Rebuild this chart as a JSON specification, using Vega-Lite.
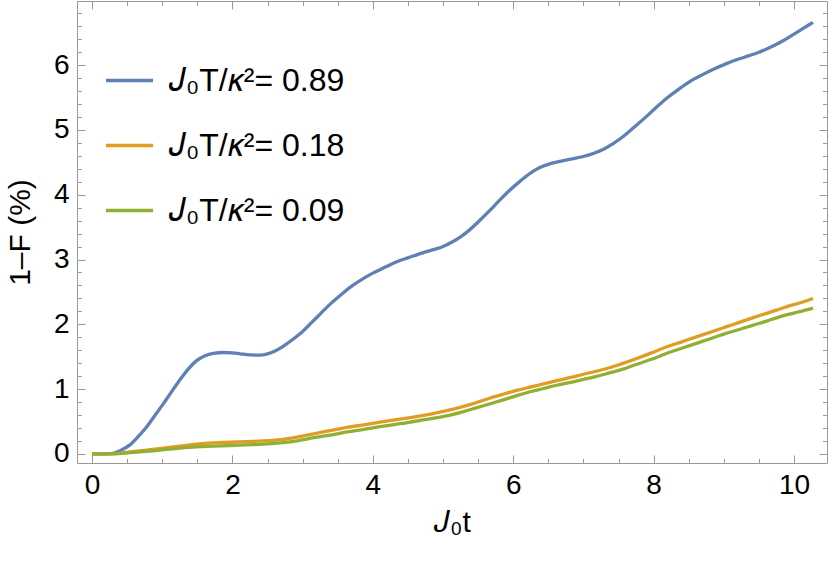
{
  "$schema": "https://vega.github.io/schema/vega-lite/v6.json",
  "width": 750,
  "height": 462,
  "autosize": {"type": "none"},
  "padding": {"left": 77, "top": 1, "right": 3, "bottom": 99},
  "background": "white",
  "config": {
    "view": {"stroke": null},
    "font": "Liberation Sans",
    "axis": {"grid": false, "labelFont": "Liberation Sans", "titleFont": "Liberation Sans", "labelColor": "black", "titleColor": "black", "domainColor": "#999999", "tickColor": "#999999", "labelFlush": false, "labelOverlap": false, "titleFontWeight": "normal"}
  },
  "datasets": {
    "curves": [
      {"t": 0, "f": 0, "s": "𝐽₀T/𝜅²= 0.89"},
      {"t": 0.2, "f": 0.003, "s": "𝐽₀T/𝜅²= 0.89"},
      {"t": 0.3, "f": 0.01, "s": "𝐽₀T/𝜅²= 0.89"},
      {"t": 0.4, "f": 0.05, "s": "𝐽₀T/𝜅²= 0.89"},
      {"t": 0.54, "f": 0.14, "s": "𝐽₀T/𝜅²= 0.89"},
      {"t": 0.66, "f": 0.27, "s": "𝐽₀T/𝜅²= 0.89"},
      {"t": 0.78, "f": 0.42, "s": "𝐽₀T/𝜅²= 0.89"},
      {"t": 0.9, "f": 0.6, "s": "𝐽₀T/𝜅²= 0.89"},
      {"t": 1.02, "f": 0.78, "s": "𝐽₀T/𝜅²= 0.89"},
      {"t": 1.14, "f": 0.97, "s": "𝐽₀T/𝜅²= 0.89"},
      {"t": 1.25, "f": 1.14, "s": "𝐽₀T/𝜅²= 0.89"},
      {"t": 1.37, "f": 1.31, "s": "𝐽₀T/𝜅²= 0.89"},
      {"t": 1.49, "f": 1.44, "s": "𝐽₀T/𝜅²= 0.89"},
      {"t": 1.61, "f": 1.515, "s": "𝐽₀T/𝜅²= 0.89"},
      {"t": 1.73, "f": 1.552, "s": "𝐽₀T/𝜅²= 0.89"},
      {"t": 1.87, "f": 1.565, "s": "𝐽₀T/𝜅²= 0.89"},
      {"t": 2.0, "f": 1.56, "s": "𝐽₀T/𝜅²= 0.89"},
      {"t": 2.11, "f": 1.545, "s": "𝐽₀T/𝜅²= 0.89"},
      {"t": 2.25, "f": 1.528, "s": "𝐽₀T/𝜅²= 0.89"},
      {"t": 2.39, "f": 1.525, "s": "𝐽₀T/𝜅²= 0.89"},
      {"t": 2.5, "f": 1.545, "s": "𝐽₀T/𝜅²= 0.89"},
      {"t": 2.6, "f": 1.585, "s": "𝐽₀T/𝜅²= 0.89"},
      {"t": 2.7, "f": 1.645, "s": "𝐽₀T/𝜅²= 0.89"},
      {"t": 2.8, "f": 1.72, "s": "𝐽₀T/𝜅²= 0.89"},
      {"t": 2.9, "f": 1.8, "s": "𝐽₀T/𝜅²= 0.89"},
      {"t": 3.0, "f": 1.89, "s": "𝐽₀T/𝜅²= 0.89"},
      {"t": 3.13, "f": 2.03, "s": "𝐽₀T/𝜅²= 0.89"},
      {"t": 3.26, "f": 2.17, "s": "𝐽₀T/𝜅²= 0.89"},
      {"t": 3.4, "f": 2.32, "s": "𝐽₀T/𝜅²= 0.89"},
      {"t": 3.55, "f": 2.46, "s": "𝐽₀T/𝜅²= 0.89"},
      {"t": 3.7, "f": 2.59, "s": "𝐽₀T/𝜅²= 0.89"},
      {"t": 3.84, "f": 2.69, "s": "𝐽₀T/𝜅²= 0.89"},
      {"t": 4.0, "f": 2.79, "s": "𝐽₀T/𝜅²= 0.89"},
      {"t": 4.17, "f": 2.88, "s": "𝐽₀T/𝜅²= 0.89"},
      {"t": 4.35, "f": 2.97, "s": "𝐽₀T/𝜅²= 0.89"},
      {"t": 4.51, "f": 3.03, "s": "𝐽₀T/𝜅²= 0.89"},
      {"t": 4.7, "f": 3.1, "s": "𝐽₀T/𝜅²= 0.89"},
      {"t": 4.89, "f": 3.16, "s": "𝐽₀T/𝜅²= 0.89"},
      {"t": 5.0, "f": 3.2, "s": "𝐽₀T/𝜅²= 0.89"},
      {"t": 5.13, "f": 3.27, "s": "𝐽₀T/𝜅²= 0.89"},
      {"t": 5.25, "f": 3.35, "s": "𝐽₀T/𝜅²= 0.89"},
      {"t": 5.37, "f": 3.45, "s": "𝐽₀T/𝜅²= 0.89"},
      {"t": 5.5, "f": 3.58, "s": "𝐽₀T/𝜅²= 0.89"},
      {"t": 5.66, "f": 3.75, "s": "𝐽₀T/𝜅²= 0.89"},
      {"t": 5.8, "f": 3.91, "s": "𝐽₀T/𝜅²= 0.89"},
      {"t": 5.95, "f": 4.07, "s": "𝐽₀T/𝜅²= 0.89"},
      {"t": 6.1, "f": 4.21, "s": "𝐽₀T/𝜅²= 0.89"},
      {"t": 6.24, "f": 4.33, "s": "𝐽₀T/𝜅²= 0.89"},
      {"t": 6.38, "f": 4.42, "s": "𝐽₀T/𝜅²= 0.89"},
      {"t": 6.53, "f": 4.48, "s": "𝐽₀T/𝜅²= 0.89"},
      {"t": 6.68, "f": 4.52, "s": "𝐽₀T/𝜅²= 0.89"},
      {"t": 6.82, "f": 4.55, "s": "𝐽₀T/𝜅²= 0.89"},
      {"t": 7.0, "f": 4.59, "s": "𝐽₀T/𝜅²= 0.89"},
      {"t": 7.15, "f": 4.64, "s": "𝐽₀T/𝜅²= 0.89"},
      {"t": 7.3, "f": 4.71, "s": "𝐽₀T/𝜅²= 0.89"},
      {"t": 7.44, "f": 4.8, "s": "𝐽₀T/𝜅²= 0.89"},
      {"t": 7.58, "f": 4.91, "s": "𝐽₀T/𝜅²= 0.89"},
      {"t": 7.73, "f": 5.05, "s": "𝐽₀T/𝜅²= 0.89"},
      {"t": 7.88, "f": 5.19, "s": "𝐽₀T/𝜅²= 0.89"},
      {"t": 8.02, "f": 5.33, "s": "𝐽₀T/𝜅²= 0.89"},
      {"t": 8.2, "f": 5.5, "s": "𝐽₀T/𝜅²= 0.89"},
      {"t": 8.36, "f": 5.63, "s": "𝐽₀T/𝜅²= 0.89"},
      {"t": 8.52, "f": 5.75, "s": "𝐽₀T/𝜅²= 0.89"},
      {"t": 8.69, "f": 5.85, "s": "𝐽₀T/𝜅²= 0.89"},
      {"t": 8.86, "f": 5.94, "s": "𝐽₀T/𝜅²= 0.89"},
      {"t": 9.03, "f": 6.02, "s": "𝐽₀T/𝜅²= 0.89"},
      {"t": 9.2, "f": 6.09, "s": "𝐽₀T/𝜅²= 0.89"},
      {"t": 9.37, "f": 6.15, "s": "𝐽₀T/𝜅²= 0.89"},
      {"t": 9.5, "f": 6.2, "s": "𝐽₀T/𝜅²= 0.89"},
      {"t": 9.61, "f": 6.25, "s": "𝐽₀T/𝜅²= 0.89"},
      {"t": 9.73, "f": 6.31, "s": "𝐽₀T/𝜅²= 0.89"},
      {"t": 9.85, "f": 6.38, "s": "𝐽₀T/𝜅²= 0.89"},
      {"t": 9.97, "f": 6.46, "s": "𝐽₀T/𝜅²= 0.89"},
      {"t": 10.09, "f": 6.54, "s": "𝐽₀T/𝜅²= 0.89"},
      {"t": 10.18, "f": 6.6, "s": "𝐽₀T/𝜅²= 0.89"},
      {"t": 10.27, "f": 6.66, "s": "𝐽₀T/𝜅²= 0.89"},
      {"t": 0, "f": 0, "s": "𝐽₀T/𝜅²= 0.18"},
      {"t": 0.3, "f": 0.005, "s": "𝐽₀T/𝜅²= 0.18"},
      {"t": 0.54, "f": 0.03, "s": "𝐽₀T/𝜅²= 0.18"},
      {"t": 0.78, "f": 0.06, "s": "𝐽₀T/𝜅²= 0.18"},
      {"t": 1.02, "f": 0.09, "s": "𝐽₀T/𝜅²= 0.18"},
      {"t": 1.25, "f": 0.12, "s": "𝐽₀T/𝜅²= 0.18"},
      {"t": 1.49, "f": 0.15, "s": "𝐽₀T/𝜅²= 0.18"},
      {"t": 1.73, "f": 0.17, "s": "𝐽₀T/𝜅²= 0.18"},
      {"t": 1.97, "f": 0.18, "s": "𝐽₀T/𝜅²= 0.18"},
      {"t": 2.2, "f": 0.19, "s": "𝐽₀T/𝜅²= 0.18"},
      {"t": 2.44, "f": 0.2, "s": "𝐽₀T/𝜅²= 0.18"},
      {"t": 2.68, "f": 0.22, "s": "𝐽₀T/𝜅²= 0.18"},
      {"t": 2.92, "f": 0.26, "s": "𝐽₀T/𝜅²= 0.18"},
      {"t": 3.16, "f": 0.31, "s": "𝐽₀T/𝜅²= 0.18"},
      {"t": 3.39, "f": 0.36, "s": "𝐽₀T/𝜅²= 0.18"},
      {"t": 3.63, "f": 0.41, "s": "𝐽₀T/𝜅²= 0.18"},
      {"t": 3.87, "f": 0.45, "s": "𝐽₀T/𝜅²= 0.18"},
      {"t": 4.1, "f": 0.49, "s": "𝐽₀T/𝜅²= 0.18"},
      {"t": 4.41, "f": 0.54, "s": "𝐽₀T/𝜅²= 0.18"},
      {"t": 4.89, "f": 0.63, "s": "𝐽₀T/𝜅²= 0.18"},
      {"t": 5.1, "f": 0.68, "s": "𝐽₀T/𝜅²= 0.18"},
      {"t": 5.28, "f": 0.73, "s": "𝐽₀T/𝜅²= 0.18"},
      {"t": 5.47, "f": 0.79, "s": "𝐽₀T/𝜅²= 0.18"},
      {"t": 5.66, "f": 0.86, "s": "𝐽₀T/𝜅²= 0.18"},
      {"t": 5.85, "f": 0.92, "s": "𝐽₀T/𝜅²= 0.18"},
      {"t": 6.05, "f": 0.98, "s": "𝐽₀T/𝜅²= 0.18"},
      {"t": 6.24, "f": 1.03, "s": "𝐽₀T/𝜅²= 0.18"},
      {"t": 6.43, "f": 1.08, "s": "𝐽₀T/𝜅²= 0.18"},
      {"t": 6.62, "f": 1.13, "s": "𝐽₀T/𝜅²= 0.18"},
      {"t": 6.82, "f": 1.18, "s": "𝐽₀T/𝜅²= 0.18"},
      {"t": 7.0, "f": 1.23, "s": "𝐽₀T/𝜅²= 0.18"},
      {"t": 7.2, "f": 1.28, "s": "𝐽₀T/𝜅²= 0.18"},
      {"t": 7.37, "f": 1.33, "s": "𝐽₀T/𝜅²= 0.18"},
      {"t": 7.54, "f": 1.39, "s": "𝐽₀T/𝜅²= 0.18"},
      {"t": 7.75, "f": 1.47, "s": "𝐽₀T/𝜅²= 0.18"},
      {"t": 7.97, "f": 1.56, "s": "𝐽₀T/𝜅²= 0.18"},
      {"t": 8.18, "f": 1.65, "s": "𝐽₀T/𝜅²= 0.18"},
      {"t": 8.4, "f": 1.73, "s": "𝐽₀T/𝜅²= 0.18"},
      {"t": 8.62, "f": 1.81, "s": "𝐽₀T/𝜅²= 0.18"},
      {"t": 8.84, "f": 1.89, "s": "𝐽₀T/𝜅²= 0.18"},
      {"t": 9.03, "f": 1.96, "s": "𝐽₀T/𝜅²= 0.18"},
      {"t": 9.22, "f": 2.03, "s": "𝐽₀T/𝜅²= 0.18"},
      {"t": 9.41, "f": 2.1, "s": "𝐽₀T/𝜅²= 0.18"},
      {"t": 9.61, "f": 2.17, "s": "𝐽₀T/𝜅²= 0.18"},
      {"t": 9.75, "f": 2.22, "s": "𝐽₀T/𝜅²= 0.18"},
      {"t": 9.89, "f": 2.27, "s": "𝐽₀T/𝜅²= 0.18"},
      {"t": 10.08, "f": 2.33, "s": "𝐽₀T/𝜅²= 0.18"},
      {"t": 10.27, "f": 2.4, "s": "𝐽₀T/𝜅²= 0.18"},
      {"t": 0, "f": 0, "s": "𝐽₀T/𝜅²= 0.09"},
      {"t": 0.3, "f": 0.003, "s": "𝐽₀T/𝜅²= 0.09"},
      {"t": 0.54, "f": 0.02, "s": "𝐽₀T/𝜅²= 0.09"},
      {"t": 0.78, "f": 0.04, "s": "𝐽₀T/𝜅²= 0.09"},
      {"t": 1.02, "f": 0.065, "s": "𝐽₀T/𝜅²= 0.09"},
      {"t": 1.25, "f": 0.09, "s": "𝐽₀T/𝜅²= 0.09"},
      {"t": 1.49, "f": 0.11, "s": "𝐽₀T/𝜅²= 0.09"},
      {"t": 1.73, "f": 0.12, "s": "𝐽₀T/𝜅²= 0.09"},
      {"t": 1.97, "f": 0.13, "s": "𝐽₀T/𝜅²= 0.09"},
      {"t": 2.2, "f": 0.14, "s": "𝐽₀T/𝜅²= 0.09"},
      {"t": 2.44, "f": 0.15, "s": "𝐽₀T/𝜅²= 0.09"},
      {"t": 2.68, "f": 0.17, "s": "𝐽₀T/𝜅²= 0.09"},
      {"t": 2.92, "f": 0.2, "s": "𝐽₀T/𝜅²= 0.09"},
      {"t": 3.16, "f": 0.25, "s": "𝐽₀T/𝜅²= 0.09"},
      {"t": 3.39, "f": 0.29, "s": "𝐽₀T/𝜅²= 0.09"},
      {"t": 3.63, "f": 0.34, "s": "𝐽₀T/𝜅²= 0.09"},
      {"t": 3.87, "f": 0.38, "s": "𝐽₀T/𝜅²= 0.09"},
      {"t": 4.1, "f": 0.42, "s": "𝐽₀T/𝜅²= 0.09"},
      {"t": 4.41, "f": 0.47, "s": "𝐽₀T/𝜅²= 0.09"},
      {"t": 4.89, "f": 0.555, "s": "𝐽₀T/𝜅²= 0.09"},
      {"t": 5.1, "f": 0.6, "s": "𝐽₀T/𝜅²= 0.09"},
      {"t": 5.28, "f": 0.65, "s": "𝐽₀T/𝜅²= 0.09"},
      {"t": 5.47, "f": 0.71, "s": "𝐽₀T/𝜅²= 0.09"},
      {"t": 5.66, "f": 0.77, "s": "𝐽₀T/𝜅²= 0.09"},
      {"t": 5.85, "f": 0.83, "s": "𝐽₀T/𝜅²= 0.09"},
      {"t": 6.05, "f": 0.9, "s": "𝐽₀T/𝜅²= 0.09"},
      {"t": 6.24, "f": 0.96, "s": "𝐽₀T/𝜅²= 0.09"},
      {"t": 6.43, "f": 1.01, "s": "𝐽₀T/𝜅²= 0.09"},
      {"t": 6.62, "f": 1.06, "s": "𝐽₀T/𝜅²= 0.09"},
      {"t": 6.82, "f": 1.105, "s": "𝐽₀T/𝜅²= 0.09"},
      {"t": 7.0, "f": 1.15, "s": "𝐽₀T/𝜅²= 0.09"},
      {"t": 7.2, "f": 1.2, "s": "𝐽₀T/𝜅²= 0.09"},
      {"t": 7.37, "f": 1.25, "s": "𝐽₀T/𝜅²= 0.09"},
      {"t": 7.54, "f": 1.3, "s": "𝐽₀T/𝜅²= 0.09"},
      {"t": 7.75, "f": 1.38, "s": "𝐽₀T/𝜅²= 0.09"},
      {"t": 7.97, "f": 1.46, "s": "𝐽₀T/𝜅²= 0.09"},
      {"t": 8.18, "f": 1.55, "s": "𝐽₀T/𝜅²= 0.09"},
      {"t": 8.4, "f": 1.63, "s": "𝐽₀T/𝜅²= 0.09"},
      {"t": 8.62, "f": 1.71, "s": "𝐽₀T/𝜅²= 0.09"},
      {"t": 8.84, "f": 1.79, "s": "𝐽₀T/𝜅²= 0.09"},
      {"t": 9.03, "f": 1.86, "s": "𝐽₀T/𝜅²= 0.09"},
      {"t": 9.22, "f": 1.92, "s": "𝐽₀T/𝜅²= 0.09"},
      {"t": 9.41, "f": 1.985, "s": "𝐽₀T/𝜅²= 0.09"},
      {"t": 9.61, "f": 2.05, "s": "𝐽₀T/𝜅²= 0.09"},
      {"t": 9.75, "f": 2.1, "s": "𝐽₀T/𝜅²= 0.09"},
      {"t": 9.89, "f": 2.145, "s": "𝐽₀T/𝜅²= 0.09"},
      {"t": 10.08, "f": 2.195, "s": "𝐽₀T/𝜅²= 0.09"},
      {"t": 10.27, "f": 2.25, "s": "𝐽₀T/𝜅²= 0.09"}
    ]
  },
  "data": {"name": "curves"},
  "resolve": {"axis": {"x": "independent", "y": "independent"}},
  "layer": [
    {
      "mark": {"type": "line", "opacity": 0},
      "encoding": {
        "x": {"field": "t", "type": "quantitative", "scale": {"domain": [-0.214, 10.47], "nice": false, "zero": false},
              "axis": {"orient": "top", "offset": -462, "values": [0,0.5,1,1.5,2,2.5,3,3.5,4,4.5,5,5.5,6,6.5,7,7.5,8,8.5,9,9.5,10], "labels": false, "title": null, "domain": true, "ticks": true,
                       "tickSize": {"condition": {"test": "datum.value % 2 === 0", "value": 8}, "value": 4.5}}},
        "y": {"field": "f", "type": "quantitative", "scale": {"domain": [-0.14, 6.99], "nice": false, "zero": false},
              "axis": {"orient": "right", "offset": -750, "values": [0,0.2,0.4,0.6,0.8,1,1.2,1.4,1.6,1.8,2,2.2,2.4,2.6,2.8,3,3.2,3.4,3.6,3.8,4,4.2,4.4,4.6,4.8,5,5.2,5.4,5.6,5.8,6,6.2,6.4,6.6,6.8], "labels": false, "title": null, "domain": true, "ticks": true,
                       "tickSize": {"condition": {"test": "abs(datum.value - round(datum.value)) < 0.001", "value": 8}, "value": 4.5}}},
        "detail": {"field": "s"}
      }
    },
    {
      "mark": {"type": "line", "opacity": 0},
      "encoding": {
        "x": {"field": "t", "type": "quantitative",
              "axis": {"orient": "bottom", "offset": -462, "values": [0,0.5,1,1.5,2,2.5,3,3.5,4,4.5,5,5.5,6,6.5,7,7.5,8,8.5,9,9.5,10], "labels": false, "title": null, "domain": true, "ticks": true,
                       "tickSize": {"condition": {"test": "datum.value % 2 === 0", "value": 8}, "value": 4.5}}},
        "y": {"field": "f", "type": "quantitative",
              "axis": {"orient": "left", "offset": -750, "values": [0,0.2,0.4,0.6,0.8,1,1.2,1.4,1.6,1.8,2,2.2,2.4,2.6,2.8,3,3.2,3.4,3.6,3.8,4,4.2,4.4,4.6,4.8,5,5.2,5.4,5.6,5.8,6,6.2,6.4,6.6,6.8], "labels": false, "title": null, "domain": true, "ticks": true,
                       "tickSize": {"condition": {"test": "abs(datum.value - round(datum.value)) < 0.001", "value": 8}, "value": 4.5}}},
        "detail": {"field": "s"}
      }
    },
    {
      "mark": {"type": "line", "strokeWidth": 3.3, "interpolate": "monotone"},
      "encoding": {
        "x": {"field": "t", "type": "quantitative",
              "axis": {"orient": "bottom", "values": [0,2,4,6,8,10], "ticks": false, "domain": false, "labelFontSize": 28, "labelPadding": 8, "title": "𝐽₀t", "titleFontSize": 30, "titlePadding": 8}},
        "y": {"field": "f", "type": "quantitative",
              "axis": {"orient": "left", "values": [0,1,2,3,4,5,6], "ticks": false, "domain": false, "labelFontSize": 28, "labelPadding": 8, "title": "1–F (%)", "titleFontSize": 30, "titlePadding": 18}},
        "color": {"field": "s", "type": "nominal",
                  "scale": {"domain": ["𝐽₀T/𝜅²= 0.89", "𝐽₀T/𝜅²= 0.18", "𝐽₀T/𝜅²= 0.09"], "range": ["#5E81B5", "#E19C24", "#8FB032"]},
                  "legend": {"orient": "none", "legendX": 27, "legendY": 54, "direction": "vertical", "title": null, "symbolType": "stroke", "symbolSize": 2209, "symbolStrokeWidth": 3.3, "labelFontSize": 32, "labelFont": "Liberation Sans", "labelOffset": 14, "rowPadding": 23, "padding": 0, "labelLimit": 400}}
      }
    }
  ]
}
